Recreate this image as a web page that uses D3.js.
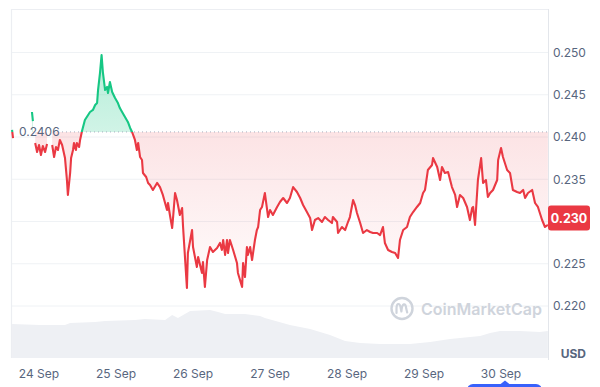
<!DOCTYPE html>
<html><head><meta charset="utf-8">
<script src="https://cdn.jsdelivr.net/npm/d3@7"></script>
<style>html,body{margin:0;padding:0;background:#fff;}svg{display:block;font-family:Inter,"Noto Sans",sans-serif;}</style>
</head><body><svg id="c" width="600" height="387"></svg>
<script>
// ---- data ----
const baseDate = new Date(2023, 8, 24, 0, 0); // 24 Sep 00:00
const priceHours = [-8.4,-8.1,-5,-2.2,-1.9,-1.5,-1.2,-0.6,0,0.6,1.2,1.9,2.5,3.3,
4.1,4.7,5.3,5.9,6.5,7.2,8.1,8.7,9.0,9.7,10.0,10.6,10.9,11.5,11.8,12.5,12.8,13.4,14.3,15.3,15.9,16.8,17.5,18.1,18.4,19.0,19.5,19.9,
20.6,21.2,21.5,22.1,22.8,23.7,24.6,25.2,25.9,26.8,27.7,28.4,29.0,29.9,30.5,30.9,31.5,32.1,32.4,33.4,34.0,34.6,35.5,36.8,37.7,38.6,
39.9,40.2,40.8,41.5,41.8,42.4,43.0,43.9,44.6,44.9,46.1,46.4,47.7,48.0,49.2,49.6,50.8,51.1,51.7,52.4,53.3,54.2,55.5,56.4,57.0,57.4,
58.0,58.6,58.9,59.5,60.5,61.7,62.0,63.3,63.6,64.2,64.8,65.1,65.8,66.4,67.3,67.9,68.3,68.9,69.5,70.4,71.4,72.0,72.9,74.2,75.1,76.1,
77.3,78.2,79.2,80.4,81.4,82.3,83.5,84.5,85.1,86.0,87.0,88.2,89.1,90.1,91.3,91.6,92.9,93.2,94.4,95.4,96.3,96.9,97.9,98.5,99.1,100.1,
101.0,102.2,103.2,104.1,105.4,106.3,107.2,107.8,108.8,110.0,111.0,111.9,112.5,113.5,114.7,115.6,116.6,117.8,118.8,119.7,120.3,
121.2,122.5,122.8,124.1,125.0,125.6,126.5,127.5,128.7,129.7,130.3,131.2,132.2,133.4,134.3,135.0,135.3,135.9,136.8,137.8,138.4,
139.3,139.9,140.6,141.5,142.8,143.1,144.0,144.6,145.9,146.8,147.7,149.0,149.9,150.9,151.5,152.4,153.7,154.6,155.5,156.8,157.7,158.6];
const priceValues = [0.24083,0.23988,null,0.24296,0.24189,null,0.23929,0.23822,0.23905,0.23787,0.23893,0.23822,0.23917,null,
0.23905,0.23763,0.23882,0.23846,0.23965,0.23905,0.23751,0.23491,0.23314,0.23574,0.23751,0.23846,0.23929,0.23846,0.23929,0.23882,0.23965,0.24071,0.24201,0.24260,0.24296,0.24320,0.24379,0.24402,0.24556,0.24757,0.24970,0.24769,
0.24556,0.24592,0.24521,0.24651,0.24533,0.24462,0.24402,0.24343,0.24296,0.24237,0.24178,0.24107,0.24059,0.23965,0.23846,0.23929,0.23763,0.23728,0.23574,0.23527,0.23456,0.23432,0.23373,0.23456,0.23408,0.23314,
0.23136,0.23219,0.23077,0.22923,0.23053,0.23337,0.23254,0.23077,0.23160,0.22935,0.22213,0.22627,0.22899,0.22698,0.22462,0.22580,0.22391,0.22521,0.22225,0.22544,0.22698,0.22639,0.22686,0.22746,0.22663,0.22781,
0.22604,0.22781,0.22627,0.22781,0.22663,0.22509,0.22391,0.22225,0.22509,0.22343,0.22698,0.22604,0.22698,0.22544,0.22781,0.22899,0.22935,0.23136,0.23172,0.23337,0.23053,0.23136,0.23077,0.23172,0.23231,0.23278,
0.23219,0.23278,0.23408,0.23349,0.23278,0.23195,0.23112,0.23041,0.22899,0.23018,0.23041,0.22994,0.23053,0.23018,0.22982,0.23053,0.22994,0.22864,0.22935,0.22899,0.22994,0.23053,0.23254,0.23195,0.23101,0.22982,
0.22864,0.22899,0.22876,0.22864,0.22864,0.22840,0.22935,0.22746,0.22663,0.22639,0.22627,0.22568,0.22781,0.22899,0.22935,0.23053,0.23112,0.23172,0.23219,0.23337,0.23373,
0.23609,0.23669,0.23751,0.23645,0.23491,0.23645,0.23574,0.23586,0.23408,0.23314,0.23172,0.23314,0.23278,0.23172,0.23018,0.23160,0.23172,0.22959,0.23491,0.23751,0.23456,
0.23491,0.23290,0.23337,0.23373,0.23491,0.23728,0.23870,0.23763,0.23609,0.23574,0.23373,0.23349,0.23337,0.23373,0.23278,0.23337,0.23373,0.23219,0.23172,0.23018,0.22935,0.22959];
const volumeHours = [-8.4,0.3,8.1,9.7,17.5,20.6,29.9,33.0,39.3,41.5,43.3,47.1,53.3,55.8,58.0,64.2,68.9,70.4,78.2,84.5,90.7,95.4,100.1,106.3,115.6,121.9,128.1,137.5,140.6,143.7,149.9,156.1,158.6];
const volumeValues = [34,33,33,35,36,37,38,39,38,43,40,47,48,46,44,44,42,40,33,29,23,17,15,14,14,16,19,22,25,27,27,26,27];
const yTicks = [0.220,0.225,0.230,0.235,0.240,0.245,0.250];
const refPrice = 0.2406;
const refLabel = "0.2406";
const lastPriceLabel = "0.230";
const lastPriceLevel = 0.2304;
const currency = "USD";
const watermark = "CoinMarketCap";

// ---- setup ----
const RED = "#ea3943", GREEN = "#16c784", TXT = "#58667e", GRID = "#eff2f5";
const toDate = h => new Date(baseDate.getTime() + h * 3600000);
const price = priceHours.map((h, i) => ({t: toDate(h), v: priceValues[i]}));
const vol = volumeHours.map((h, i) => ({t: toDate(h), v: volumeValues[i]}));

const L = 12, R = 548, T = 9, B = 358;
const svg = d3.select("#c");
const x = d3.scaleTime().domain([toDate(-8.42), toDate(158.64)]).range([L, R]);
const y = d3.scaleLinear().domain([0.220, 0.250]).range([306, 52.5]);
const yv = d3.scaleLinear().domain([0, 60]).range([B, B - 60]);
const yRef = y(refPrice);

const defs = svg.append("defs");
const gRed = defs.append("linearGradient").attr("id", "gr").attr("gradientUnits", "userSpaceOnUse")
  .attr("x1", 0).attr("x2", 0).attr("y1", yRef).attr("y2", y(0.2215));
gRed.append("stop").attr("offset", 0).attr("stop-color", RED).attr("stop-opacity", 0.14);
gRed.append("stop").attr("offset", 1).attr("stop-color", RED).attr("stop-opacity", 0.01);
const gGreen = defs.append("linearGradient").attr("id", "gg").attr("gradientUnits", "userSpaceOnUse")
  .attr("x1", 0).attr("x2", 0).attr("y1", y(0.2497)).attr("y2", yRef);
gGreen.append("stop").attr("offset", 0).attr("stop-color", GREEN).attr("stop-opacity", 0.32);
gGreen.append("stop").attr("offset", 1).attr("stop-color", GREEN).attr("stop-opacity", 0.2);
defs.append("clipPath").attr("id", "above").append("rect").attr("x", 0).attr("y", 0).attr("width", 600).attr("height", yRef);
defs.append("clipPath").attr("id", "below").append("rect").attr("x", 0).attr("y", yRef).attr("width", 600).attr("height", 387 - yRef);

// gridlines
svg.append("g").selectAll("line").data(yTicks).join("line")
  .attr("x1", L).attr("x2", R).attr("y1", d => y(d)).attr("y2", d => y(d))
  .attr("stroke", GRID).attr("stroke-width", 1);

// frame
svg.append("path").attr("d", `M${L-0.5},${B} V${T+0.5} H${R}`).attr("fill", "none").attr("stroke", "#eceef2").attr("stroke-width", 1.2);
svg.append("line").attr("x1", R + 0.5).attr("x2", R + 0.5).attr("y1", T).attr("y2", B + 2).attr("stroke", "#e3e6eb");

// volume
svg.append("path").datum(vol)
  .attr("d", d3.area().x(d => x(d.t)).y0(B).y1(d => yv(d.v)))
  .attr("fill", "#eef0f4");

// watermark
const wm = svg.append("g").attr("transform", "translate(402,308.5)");
wm.append("circle").attr("r", 10.5).attr("fill", "none").attr("stroke", "#cfd4dc").attr("stroke-width", 2.4);
wm.append("path").attr("d", "M-5.5,4.5 L-5.5,0 C-5.5,-6 -2,-6 -1.2,0 L-0.6,3 C0,-6 3.8,-6 4.2,0 L5.2,4")
  .attr("fill", "none").attr("stroke", "#cfd4dc").attr("stroke-width", 2.2).attr("stroke-linecap", "round").attr("stroke-linejoin", "round");
svg.append("text").attr("x", 421).attr("y", 314.5).attr("font-size", 16).attr("font-weight", 600)
  .attr("fill", "#cfd4dc").text(watermark);

// areas
const area = d3.area().defined(d => d.v != null).x(d => x(d.t)).y0(yRef).y1(d => y(d.v));
svg.append("path").datum(price).attr("d", area).attr("fill", "url(#gr)").attr("clip-path", "url(#below)");
svg.append("path").datum(price).attr("d", area).attr("fill", "url(#gg)").attr("clip-path", "url(#above)");

// reference line + label
svg.append("line").attr("x1", 62).attr("x2", R).attr("y1", yRef).attr("y2", yRef)
  .attr("stroke", "#a7afc0").attr("stroke-width", 1).attr("stroke-dasharray", "1,3");
svg.append("text").attr("x", 19).attr("y", yRef).attr("dy", "0.36em").attr("font-size", 12)
  .attr("fill", TXT).text(refLabel);

// price line
const line = d3.line().defined(d => d.v != null).x(d => x(d.t)).y(d => y(d.v));
svg.append("path").datum(price).attr("d", line).attr("fill", "none").attr("stroke", RED)
  .attr("stroke-width", 2.1).attr("stroke-linejoin", "round").attr("clip-path", "url(#below)");
svg.append("path").datum(price).attr("d", line).attr("fill", "none").attr("stroke", GREEN)
  .attr("stroke-width", 2.1).attr("stroke-linejoin", "round").attr("clip-path", "url(#above)");

// y axis labels (the one hidden under the current-price badge is replaced by the badge)
const cy = y(lastPriceLevel);
svg.append("g").selectAll("text").data(yTicks.filter(d => Math.abs(y(d) - cy) > 14)).join("text")
  .attr("x", 553).attr("y", d => y(d)).attr("dy", "0.36em").attr("font-size", 12).attr("fill", TXT)
  .text(d => d3.format(".3f")(d));
svg.append("text").attr("x", 586).attr("y", 354).attr("dy", "0.36em").attr("text-anchor", "end")
  .attr("font-size", 12).attr("font-weight", 700).attr("fill", TXT).text(currency);

// current price badge
svg.append("rect").attr("x", R).attr("y", cy - 12.5).attr("width", 42).attr("height", 25).attr("rx", 3).attr("fill", RED);
svg.append("text").attr("x", R + 21).attr("y", cy).attr("dy", "0.36em").attr("text-anchor", "middle")
  .attr("font-size", 12.5).attr("font-weight", 700).attr("fill", "#fff").text(lastPriceLabel);

// x axis labels
const days = d3.timeDay.range(toDate(0), toDate(150));
svg.append("g").selectAll("text").data(days).join("text")
  .attr("x", d => x(d)).attr("y", 374).attr("dy", "0.36em").attr("text-anchor", "middle")
  .attr("font-size", 12).attr("fill", TXT).text(d3.timeFormat("%-d %b"));

// blue handle at bottom
svg.append("rect").attr("x", 467).attr("y", 384).attr("width", 75).attr("height", 14).attr("rx", 6).attr("fill", "#3861fb");
svg.append("path").attr("d", "M500,384.5 L505,380.5 L510,384.5 Z").attr("fill", "#3861fb");
</script></body></html>
